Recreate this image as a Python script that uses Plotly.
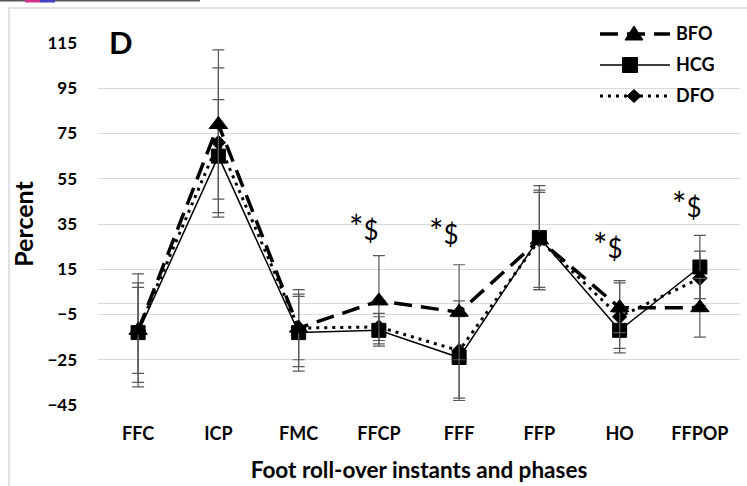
import plotly.graph_objects as go

# ---- data ----
categories = ["FFC", "ICP", "FMC", "FFCP", "FFF", "FFP", "HO", "FFPOP"]
bfo = [-12, 79, -11, 1, -4, 28, -2, -2]
bfo_err = [25, 33, 17, 20, 21, 21, 11, 13]
hcg = [-13, 65, -13, -12, -24, 29, -12, 16]
hcg_err = [22, 25, 17, 6, 18, 23, 8, 14]
dfo = [-12, 71, -11, -10.5, -21, 28, -6, 11]
dfo_err = [19, 33, 14, 6, 22, 22, 16, 12]
y_ticks = [-45, -25, -5, 15, 35, 55, 75, 95, 115]
sig_cats = ["FFCP", "FFF", "HO", "FFPOP"]
sig_y = [34, 32, 26, 44]
sig_shift = [-15, -15, -12, -13]
legend_names = ["BFO", "HCG", "DFO"]

W, H = 747, 486
L, R, T, B = 98, 7, 43, 81
PW, PH = W - L - R, H - T - B

def px(x):
    return (x - L) / PW

def py(y):
    return (H - B - y) / PH

FONT = "Lato"
ERRC = "#595959"

fig = go.Figure()

styles = {
    "BFO": dict(line=dict(color="black", width=3.5, dash="18px,9px"),
                marker=dict(symbol="triangle-up", size=16, color="black",
                            line=dict(color="black", width=1))),
    "HCG": dict(line=dict(color="black", width=1.5),
                marker=dict(symbol="square", size=14, color="black",
                            line=dict(color="black", width=1))),
    "DFO": dict(line=dict(color="black", width=3, dash="3px,5px"),
                marker=dict(symbol="diamond", size=11, color="black",
                            line=dict(color="black", width=1))),
}
series = {"HCG": (hcg, hcg_err), "DFO": (dfo, dfo_err), "BFO": (bfo, bfo_err)}
for name, (vals, errs) in series.items():
    fig.add_trace(go.Scatter(
        x=categories, y=vals, mode="lines+markers", name=name,
        line=styles[name]["line"], marker=styles[name]["marker"],
        error_y=dict(type="data", array=errs, visible=True, color=ERRC,
                     thickness=1.2, width=6),
        showlegend=False, cliponaxis=False,
    ))

# significance annotations
sig_text = "<span style='font-size:34px'>*</span>$"
for c, yv, sh in zip(sig_cats, sig_y, sig_shift):
    fig.add_annotation(x=c, y=yv, text=sig_text, showarrow=False, xshift=sh,
                       xanchor="center", yanchor="middle",
                       font=dict(family=FONT, size=26, color="black"))

# panel label
fig.add_annotation(x=px(121), y=py(42), xref="paper", yref="paper", text="<b>D</b>",
                   showarrow=False, xanchor="center", yanchor="middle",
                   font=dict(family=FONT, size=31, color="black"))

# custom legend (drawn in pixel space, converted to paper)
leg_rows = {"BFO": 34, "HCG": 65, "DFO": 96}
leg_mx = {"BFO": 634, "HCG": 630, "DFO": 634}

def path(points):
    return "M " + " L ".join(f"{px(a):.5f},{py(b):.5f}" for a, b in points) + " Z"

shapes = []
for name in legend_names:
    yy = leg_rows[name]
    ln = styles[name]["line"]
    shapes.append(dict(type="line", xref="paper", yref="paper",
                       x0=px(600), x1=px(670), y0=py(yy), y1=py(yy),
                       line=dict(color="black", width=ln["width"], dash=ln.get("dash", "solid"))))
    mx = leg_mx[name]
    if name == "BFO":
        pts = [(mx - 9, yy + 6), (mx + 9, yy + 6), (mx, yy - 8)]
    elif name == "HCG":
        pts = [(mx - 7.5, yy - 7.5), (mx + 7.5, yy - 7.5), (mx + 7.5, yy + 7.5), (mx - 7.5, yy + 7.5)]
    else:
        pts = [(mx - 7, yy), (mx, yy - 6.5), (mx + 7, yy), (mx, yy + 6.5)]
    shapes.append(dict(type="path", xref="paper", yref="paper", path=path(pts),
                       fillcolor="black", line=dict(color="black", width=1)))
    fig.add_annotation(x=px(674), y=py(yy - 1), xref="paper", yref="paper",
                       text="<b>" + name + "</b>", showarrow=False,
                       xanchor="left", yanchor="middle",
                       font=dict(family=FONT, size=18, color="black"))

# outer chart border (left/top visible)
shapes.append(dict(type="rect", xref="paper", yref="paper",
                   x0=px(9), x1=px(800), y0=py(8), y1=py(540),
                   line=dict(color="#d9d9d9", width=1.5), layer="below"))
# thin strip at very top (from the source document)
shapes.append(dict(type="rect", xref="paper", yref="paper",
                   x0=px(0), x1=px(200), y0=py(0), y1=py(1.5),
                   line=dict(width=0), fillcolor="#555555"))
shapes.append(dict(type="rect", xref="paper", yref="paper",
                   x0=px(25), x1=px(40), y0=py(0), y1=py(2.5),
                   line=dict(width=0), fillcolor="#d0308a"))
shapes.append(dict(type="rect", xref="paper", yref="paper",
                   x0=px(40), x1=px(55), y0=py(0), y1=py(2.5),
                   line=dict(width=0), fillcolor="#4040c0"))

fig.update_layout(
    width=W, height=H,
    margin=dict(l=L, r=R, t=T, b=B, pad=0),
    paper_bgcolor="white", plot_bgcolor="white",
    font=dict(family=FONT, color="black"),
    shapes=shapes,
    xaxis=dict(type="category", range=[-0.5, 7.5], showgrid=False, zeroline=False,
               showline=False, ticks="", ticklabelstandoff=16,
               tickfont=dict(family=FONT, size=18, color="black", weight="bold"),
               title=dict(text="<b>Foot roll-over instants and phases</b>", standoff=19,
                          font=dict(family=FONT, size=22.5, color="black"))),
    yaxis=dict(range=[-45, 115], tickvals=y_ticks, showgrid=True, gridcolor="#d9d9d9",
               gridwidth=1.2, zeroline=True, zerolinecolor="#d9d9d9", zerolinewidth=1.2,
               showline=False, ticks="", ticklabelstandoff=20,
               tickfont=dict(family=FONT, size=17, color="black", weight="bold"),
               title=dict(text="<b>Percent</b>", standoff=6,
                          font=dict(family=FONT, size=25, color="black"))),
)

fig.write_html("out.html", config={"displayModeBar": False},
               post_script="document.body.style.margin='0px';")
